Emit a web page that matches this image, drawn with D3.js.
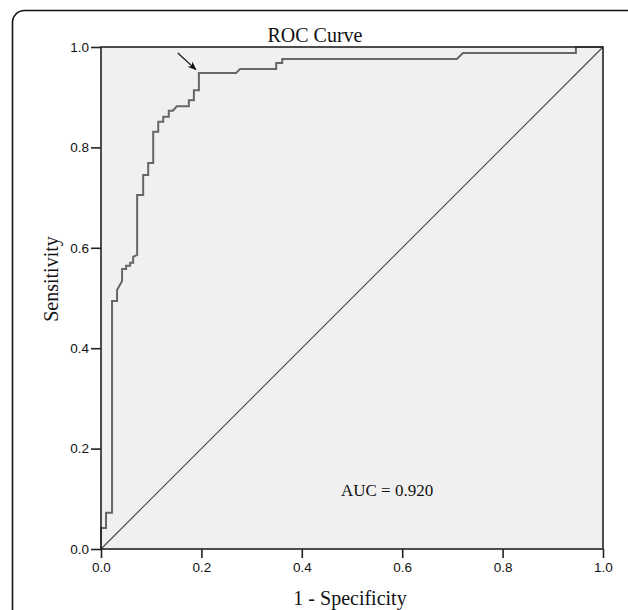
<!DOCTYPE html>
<html>
<head>
<meta charset="utf-8">
<script src="https://cdn.jsdelivr.net/npm/d3@7"></script>
<style>
  body { margin: 0; background: #fff; }
</style>
</head>
<body>
<div id="roc_plot"></div>
<script>
// ROC curve corners (1 - specificity, sensitivity)
var fpr = [0, 0, 0.010, 0.010, 0.022, 0.022, 0.032, 0.032, 0.042, 0.042, 0.050, 0.050,
  0.058, 0.058, 0.064, 0.064, 0.072, 0.072, 0.084, 0.084, 0.094, 0.094, 0.104, 0.104,
  0.114, 0.114, 0.124, 0.124, 0.135, 0.135, 0.143, 0.151, 0.175, 0.175, 0.185, 0.185,
  0.195, 0.195, 0.269, 0.277, 0.349, 0.349, 0.361, 0.361, 0.709, 0.721, 0.946, 0.946, 1.0];
var tpr = [0, 0.042, 0.042, 0.072, 0.072, 0.494, 0.494, 0.516, 0.534, 0.558, 0.558, 0.564,
  0.564, 0.570, 0.570, 0.582, 0.586, 0.705, 0.705, 0.745, 0.745, 0.769, 0.769, 0.831,
  0.831, 0.851, 0.851, 0.861, 0.861, 0.873, 0.873, 0.882, 0.882, 0.894, 0.894, 0.914,
  0.914, 0.948, 0.948, 0.956, 0.956, 0.968, 0.968, 0.976, 0.976, 0.988, 0.988, 1.0, 1.0];
var tickValues = [0, 0.2, 0.4, 0.6, 0.8, 1.0];
var reference = [[0, 0], [1, 1]];
var arrowFrom = [0.153, 0.988];
var arrowTo = [0.189, 0.955];
var aucLabel = "AUC = 0.920";
var aucPos = [0.478, 0.106];

var data = fpr.map(function (d, i) { return { x: d, y: tpr[i] }; });

var W = 628, H = 610;
var margin = { top: 47, right: 25, bottom: 61, left: 101 },
  width = W - margin.left - margin.right,
  height = H - margin.top - margin.bottom;

var svg = d3.select("#roc_plot").append("svg")
  .attr("width", W)
  .attr("height", H);

// outer frame with rounded corner
svg.append("rect")
  .attr("x", 12.5).attr("y", 10.5)
  .attr("width", 700).attr("height", 700)
  .attr("rx", 12)
  .attr("fill", "none")
  .attr("stroke", "#111")
  .attr("stroke-width", 1.6);

var g = svg.append("g")
  .attr("transform", `translate(${margin.left},${margin.top})`);

var x = d3.scaleLinear().domain([0, 1]).range([0, width]);
var y = d3.scaleLinear().domain([0, 1]).range([height, 0]);

// plot background
g.append("rect")
  .attr("width", width).attr("height", height)
  .attr("fill", "#f0f0f0");

// axes
var xAxis = g.append("g")
  .attr("transform", `translate(0,${height})`)
  .call(d3.axisBottom(x).tickValues(tickValues).tickFormat(d3.format(".1f")).tickSize(9).tickPadding(4));
var yAxis = g.append("g")
  .call(d3.axisLeft(y).tickValues(tickValues).tickFormat(d3.format(".1f")).tickSize(10).tickPadding(2));
[xAxis, yAxis].forEach(function (a) {
  a.select(".domain").remove();
  a.selectAll("line").attr("stroke", "#222").attr("stroke-width", 1.6);
  a.selectAll("text")
    .attr("fill", "#111")
    .style("font-family", "Arial, 'Liberation Sans', sans-serif")
    .style("font-size", "13.5px");
});

// diagonal reference line
var line = d3.line()
  .x(function (d) { return x(d[0]); })
  .y(function (d) { return y(d[1]); });
g.append("path")
  .attr("d", line(reference))
  .attr("fill", "none")
  .attr("stroke", "#444")
  .attr("stroke-width", 1.1);

// roc curve
var rocLine = d3.line()
  .x(function (d) { return x(d.x); })
  .y(function (d) { return y(d.y); });
g.append("path")
  .datum(data)
  .attr("d", rocLine)
  .attr("fill", "none")
  .attr("stroke", "#666")
  .attr("stroke-width", 2);

// plot border
g.append("rect")
  .attr("width", width).attr("height", height)
  .attr("fill", "none")
  .attr("stroke", "#222")
  .attr("stroke-width", 1.6);

// arrow to cut-off point
svg.append("defs").append("marker")
  .attr("id", "head")
  .attr("viewBox", "0 0 10 10")
  .attr("refX", 9).attr("refY", 5)
  .attr("markerWidth", 9).attr("markerHeight", 9)
  .attr("markerUnits", "userSpaceOnUse")
  .attr("orient", "auto")
  .append("path")
  .attr("d", "M0,1 L10,5 L0,9 L3,5 Z")
  .attr("fill", "#111");
g.append("line")
  .attr("x1", x(arrowFrom[0])).attr("y1", y(arrowFrom[1]))
  .attr("x2", x(arrowTo[0])).attr("y2", y(arrowTo[1]))
  .attr("stroke", "#111")
  .attr("stroke-width", 1.2)
  .attr("marker-end", "url(#head)");

// texts
var serif = "'Times New Roman', 'Liberation Serif', serif";
g.append("text")
  .attr("x", x(aucPos[0])).attr("y", y(aucPos[1]))
  .style("font-family", serif).style("font-size", "17px")
  .attr("fill", "#111")
  .text(aucLabel);

svg.append("text")
  .attr("x", 315).attr("y", 42)
  .attr("text-anchor", "middle")
  .style("font-family", serif).style("font-size", "20px")
  .attr("fill", "#111")
  .text("ROC Curve");

svg.append("text")
  .attr("x", 350).attr("y", 605)
  .attr("text-anchor", "middle")
  .style("font-family", serif).style("font-size", "20px")
  .attr("fill", "#111")
  .text("1 - Specificity");

svg.append("text")
  .attr("transform", "translate(58,279) rotate(-90)")
  .attr("text-anchor", "middle")
  .style("font-family", serif).style("font-size", "20px")
  .attr("fill", "#111")
  .text("Sensitivity");
</script>
</body>
</html>
